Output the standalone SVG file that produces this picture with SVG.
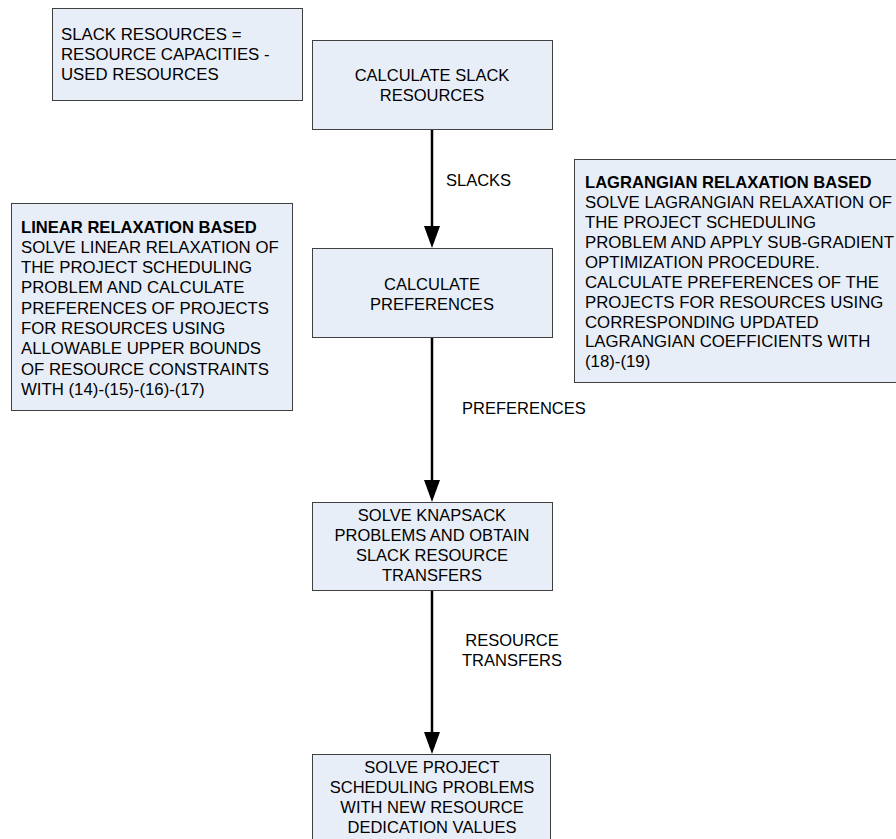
<svg xmlns="http://www.w3.org/2000/svg" width="896" height="839" viewBox="0 0 896 839">
<defs>
<style>
.box{fill:#E8EEF7;stroke:#404040;stroke-width:1}
text{font-family:"Liberation Sans",Arial,sans-serif;font-size:16.5px;fill:#000}
.n{font-size:16.8px}
.c{text-anchor:middle}
.b{font-weight:bold;font-size:16.6px}
.conn{stroke:#000;stroke-width:2.5;fill:none}
.head{fill:#000}
</style>
</defs>
<rect width="896" height="839" fill="#fff"/>
<g id="connectors">
<line class="conn" x1="432" y1="129" x2="432" y2="226"/>
<path class="head" d="M424,226 L440,226 L432,248 Z"/>
<line class="conn" x1="432" y1="337" x2="432" y2="480"/>
<path class="head" d="M424,480 L440,480 L432,502 Z"/>
<line class="conn" x1="432" y1="590" x2="432" y2="732"/>
<path class="head" d="M424,732 L440,732 L432,754 Z"/>
<text x="446" y="186">SLACKS</text>
<text x="462" y="414">PREFERENCES</text>
<text class="c" x="512" y="646">RESOURCE</text>
<text class="c" x="512" y="666">TRANSFERS</text>
</g>
<g id="note-slack">
<rect class="box" x="52.5" y="8.5" width="250" height="92"/>
<text class="n" x="61" y="39.5">SLACK RESOURCES =</text>
<text class="n" x="61" y="59.5">RESOURCE CAPACITIES -</text>
<text class="n" x="61" y="79.5">USED RESOURCES</text>
</g>
<g id="calc-slack">
<rect class="box" x="312.5" y="40.5" width="240" height="89"/>
<text class="c" x="432" y="81">CALCULATE SLACK</text>
<text class="c" x="432" y="101">RESOURCES</text>
</g>
<g id="calc-pref">
<rect class="box" x="312.5" y="248.5" width="240" height="89"/>
<text class="c" x="432" y="289.5">CALCULATE</text>
<text class="c" x="432" y="309.5">PREFERENCES</text>
</g>
<g id="knapsack">
<rect class="box" x="312.5" y="502.5" width="240" height="88"/>
<text class="c" x="432" y="521">SOLVE KNAPSACK</text>
<text class="c" x="432" y="541">PROBLEMS AND OBTAIN</text>
<text class="c" x="432" y="561">SLACK RESOURCE</text>
<text class="c" x="432" y="581">TRANSFERS</text>
</g>
<g id="solve-project">
<rect class="box" x="312.5" y="754.5" width="238" height="100"/>
<text class="c" x="432" y="773">SOLVE PROJECT</text>
<text class="c" x="432" y="793">SCHEDULING PROBLEMS</text>
<text class="c" x="432" y="813">WITH NEW RESOURCE</text>
<text class="c" x="432" y="833">DEDICATION VALUES</text>
</g>
<g id="note-linear">
<rect class="box" x="11.5" y="203.5" width="281" height="207"/>
<text class="b" x="21" y="232.5">LINEAR RELAXATION BASED</text>
<text class="n" x="21" y="252.8">SOLVE LINEAR RELAXATION OF</text>
<text class="n" x="21" y="273.1">THE PROJECT SCHEDULING</text>
<text class="n" x="21" y="293.4">PROBLEM AND CALCULATE</text>
<text class="n" x="21" y="313.7">PREFERENCES OF PROJECTS</text>
<text class="n" x="21" y="334">FOR RESOURCES USING</text>
<text class="n" x="21" y="354.3">ALLOWABLE UPPER BOUNDS</text>
<text class="n" x="21" y="374.6">OF RESOURCE CONSTRAINTS</text>
<text class="n" x="21" y="394.9">WITH (14)-(15)-(16)-(17)</text>
</g>
<g id="note-lagrangian">
<rect class="box" x="574.5" y="159.5" width="340" height="223"/>
<text class="b" x="585" y="188">LAGRANGIAN RELAXATION BASED</text>
<text class="n" x="585" y="208">SOLVE LAGRANGIAN RELAXATION OF</text>
<text class="n" x="585" y="228">THE PROJECT SCHEDULING</text>
<text class="n" x="585" y="248">PROBLEM AND APPLY SUB-GRADIENT</text>
<text class="n" x="585" y="267.5">OPTIMIZATION PROCEDURE.</text>
<text class="n" x="585" y="287.5">CALCULATE PREFERENCES OF THE</text>
<text class="n" x="585" y="307.5">PROJECTS FOR RESOURCES USING</text>
<text class="n" x="585" y="327.5">CORRESPONDING UPDATED</text>
<text class="n" x="585" y="347">LAGRANGIAN COEFFICIENTS WITH</text>
<text class="n" x="585" y="367">(18)-(19)</text>
</g>
</svg>
